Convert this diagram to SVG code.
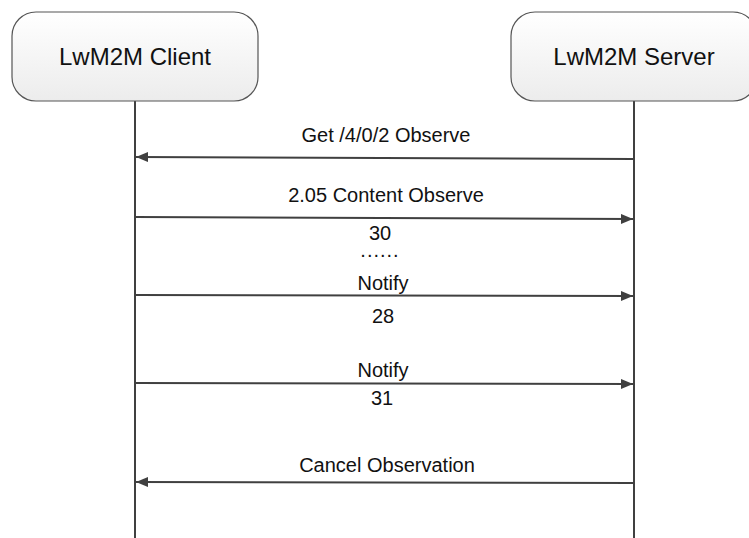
<svg xmlns="http://www.w3.org/2000/svg" width="749" height="538" viewBox="0 0 749 538">
  <defs>
    <linearGradient id="boxFill" x1="0" y1="0" x2="0" y2="1">
      <stop offset="0" stop-color="#ffffff"/>
      <stop offset="1" stop-color="#ececec"/>
    </linearGradient>
    <marker id="head" viewBox="0 0 12 10" refX="12" refY="5" markerWidth="12" markerHeight="10" markerUnits="userSpaceOnUse" orient="auto">
      <path d="M0,0 L12,5 L0,10 Z" fill="#404040"/>
    </marker>
  </defs>
  <style>
    .box { fill: url(#boxFill); stroke: #555555; stroke-width: 1.2; }
    .title { font-family: "Liberation Sans", Arial, sans-serif; font-size: 24px; fill: #111111; text-anchor: middle; }
    .life { stroke: #404040; stroke-width: 2; fill: none; }
    .msg { stroke: #404040; stroke-width: 2; fill: none; marker-end: url(#head); }
    .lbl { font-family: "Liberation Sans", Arial, sans-serif; font-size: 20px; fill: #111111; text-anchor: middle; }
  </style>

  <!-- lifelines -->
  <g id="lifelines">
    <line class="life" x1="135" y1="100" x2="135" y2="538"/>
    <line class="life" x1="634" y1="100" x2="634" y2="538"/>
  </g>

  <g id="client">
    <rect class="box" x="12" y="12" width="246" height="89" rx="24" ry="24"/>
    <text class="title" x="135" y="65">LwM2M Client</text>
  </g>

  <g id="server">
    <rect class="box" x="511" y="12" width="246" height="89" rx="24" ry="24"/>
    <text class="title" x="634" y="65">LwM2M Server</text>
  </g>

  <!-- messages -->
  <g id="connectors">
    <line class="msg" x1="634" y1="159" x2="136" y2="157"/>
    <line class="msg" x1="135" y1="217" x2="633" y2="219"/>
    <line class="msg" x1="135" y1="295" x2="633" y2="296"/>
    <line class="msg" x1="135" y1="383" x2="633" y2="384"/>
    <line class="msg" x1="634" y1="483" x2="136" y2="482"/>
  </g>

  <g id="labels">
    <text class="lbl" x="380" y="240">30</text>
    <text class="lbl" x="380" y="257" font-size="16" letter-spacing="1">......</text>
    <text class="lbl" x="386" y="142">Get /4/0/2 Observe</text>
    <text class="lbl" x="386" y="202">2.05 Content Observe</text>
    <text class="lbl" x="383" y="290">Notify</text>
    <text class="lbl" x="383" y="323">28</text>
    <text class="lbl" x="383" y="377">Notify</text>
    <text class="lbl" x="382" y="405">31</text>
    <text class="lbl" x="387" y="472">Cancel Observation</text>
  </g>
</svg>
